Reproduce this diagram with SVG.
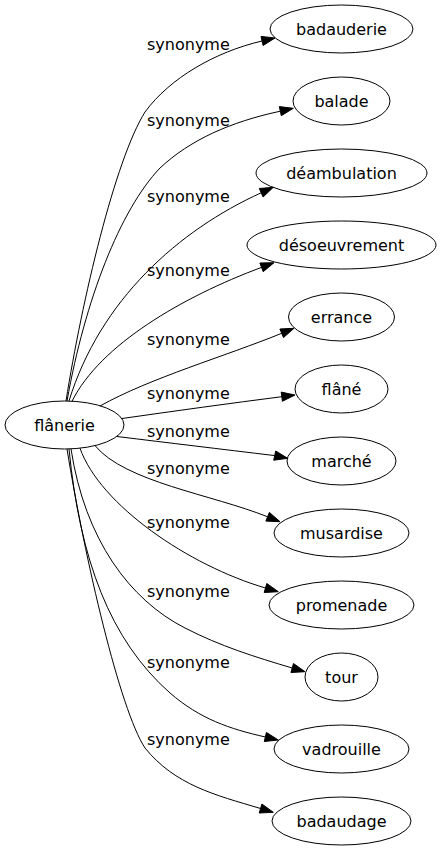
<svg xmlns="http://www.w3.org/2000/svg" width="441" height="851" viewBox="0 0 441 851">
<style>
text{font-family:"DejaVu Sans",Verdana,sans-serif;font-size:16px;fill:#000}
.n ellipse{fill:none;stroke:#000;stroke-width:1}
.n text{text-anchor:middle}
#edges path{fill:none;stroke:#000;stroke-width:1}
#edges polygon{fill:#000;stroke:#000;stroke-width:1}
</style>
<rect width="441" height="851" fill="#fff"/>
<g id="edges">
<path d="M66,401 C82,300 115,160 145,112 C170,78 215,52 262,41"/>
<polygon points="275,38 263.1,45.5 261,36.4"/>
<path d="M67,401 C85,300 120,210 160,168 C190,140 230,122 280.3,111.2"/>
<polygon points="293.3,108.3 281.3,115.7 279.3,106.6"/>
<path d="M69,401 C100,300 179,230 261.2,192.8"/>
<polygon points="273.3,187.3 263.1,197 259.3,188.5"/>
<path d="M72,401.3 C100,345 182,297 261.5,267.4"/>
<polygon points="274,262.7 263.2,271.7 259.9,263"/>
<path d="M100,406 C150,378 226,356 281.7,333.3"/>
<polygon points="294,328.3 283.5,337.6 279.9,329"/>
<path d="M122,418.5 C175,411 230,403.3 281.8,396.7"/>
<polygon points="295,395 282.4,401.3 281.2,392.1"/>
<path d="M117,436.5 C170,443 220,449 274.7,455.6"/>
<polygon points="287.7,458.3 273.7,460.2 275.7,451"/>
<path d="M95,445.6 C125,482 212,494.5 267.6,516.8"/>
<polygon points="280,521.7 265.9,521.1 269.4,512.4"/>
<path d="M80,448.2 C100,505 188.7,565.5 265.5,588"/>
<polygon points="278.3,591.7 264.2,592.5 266.8,583.5"/>
<path d="M71,449 C85,540 130,600 185,628 C220,646 255,657 292.2,668"/>
<polygon points="305,671.7 290.9,672.5 293.5,663.5"/>
<path d="M69,449 C80,560 110,640 170,693 C200,719 230,729 265.4,737"/>
<polygon points="278.3,740 264.3,741.5 266.4,732.4"/>
<path d="M67,449 C85,560 120,710 145,748 C175,785 215,795 260.6,808.5"/>
<polygon points="273.3,812.3 259.2,813 261.9,804"/>
<text x="147" y="50">synonyme</text>
<text x="147" y="126">synonyme</text>
<text x="147" y="202">synonyme</text>
<text x="147" y="276">synonyme</text>
<text x="147" y="345">synonyme</text>
<text x="147" y="399">synonyme</text>
<text x="147" y="437">synonyme</text>
<text x="147" y="474">synonyme</text>
<text x="147" y="528">synonyme</text>
<text x="147" y="597">synonyme</text>
<text x="147" y="668">synonyme</text>
<text x="147" y="745">synonyme</text>
</g>
<g id="flanerie" class="n"><ellipse cx="64.5" cy="425" rx="59.5" ry="24"/><text x="64.5" y="431">flânerie</text></g>
<g id="badauderie" class="n"><ellipse cx="341.5" cy="29" rx="71.5" ry="24"/><text x="341.5" y="35">badauderie</text></g>
<g id="balade" class="n"><ellipse cx="341.5" cy="101" rx="48.5" ry="24"/><text x="341.5" y="107">balade</text></g>
<g id="deambulation" class="n"><ellipse cx="341.5" cy="173" rx="85.5" ry="24"/><text x="341.5" y="179">déambulation</text></g>
<g id="desoeuvrement" class="n"><ellipse cx="341.5" cy="245" rx="94.5" ry="24"/><text x="341.5" y="251">désoeuvrement</text></g>
<g id="errance" class="n"><ellipse cx="341.5" cy="317" rx="53" ry="24"/><text x="341.5" y="323">errance</text></g>
<g id="flane" class="n"><ellipse cx="341.5" cy="389" rx="46.5" ry="24"/><text x="341.5" y="395">flâné</text></g>
<g id="marche" class="n"><ellipse cx="341.5" cy="461" rx="54.5" ry="24"/><text x="341.5" y="467">marché</text></g>
<g id="musardise" class="n"><ellipse cx="341.5" cy="533" rx="67.5" ry="24"/><text x="341.5" y="539">musardise</text></g>
<g id="promenade" class="n"><ellipse cx="341.5" cy="605" rx="72.5" ry="24"/><text x="341.5" y="611">promenade</text></g>
<g id="tour" class="n"><ellipse cx="341.5" cy="677" rx="36.5" ry="24"/><text x="341.5" y="683">tour</text></g>
<g id="vadrouille" class="n"><ellipse cx="341.5" cy="749" rx="67.5" ry="24"/><text x="341.5" y="755">vadrouille</text></g>
<g id="badaudage" class="n"><ellipse cx="341.5" cy="821" rx="69.5" ry="24"/><text x="341.5" y="827">badaudage</text></g>
</svg>
